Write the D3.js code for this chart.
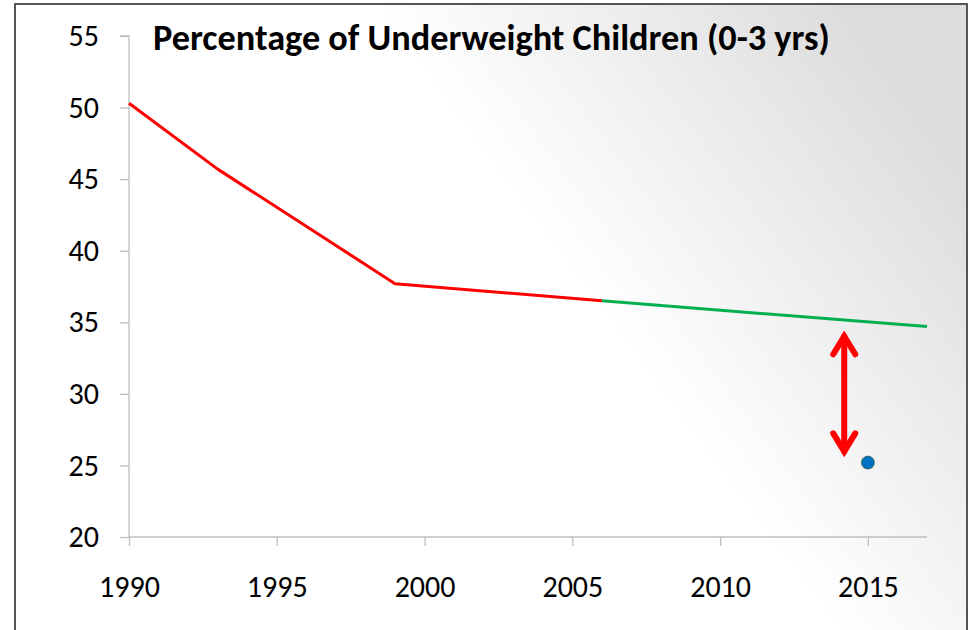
<!DOCTYPE html>
<html>
<head>
<meta charset="utf-8">
<script src="https://cdn.jsdelivr.net/npm/d3@7"></script>
<style>
  body { margin: 0; background: #fff; }
  svg { display: block; }
</style>
</head>
<body>
<script>
// values
const years = [1990, 1993, 1999, 2006];
const underweight = [50.3, 45.7, 37.7, 36.5];
const trendYears = [2006, 2017];
const trendValues = [36.5, 34.7];
const goalYear = [2015];
const goalValue = [25.2];
const gapYear = 2014.2;
const gapTop = 34.3;
const gapBottom = 25.7;
const xTicks = [1990, 1995, 2000, 2005, 2010, 2015];
const yTicks = [20, 25, 30, 35, 40, 45, 50, 55];
const title = "Percentage of Underweight Children (0-3 yrs)";

const w = 969;
const h = 630;
const font = "Calibri, Carlito, Lato, 'Open Sans', sans-serif";

const svg = d3.select("body")
  .append("svg")
  .attr("width", w)
  .attr("height", h);

const defs = svg.append("defs");
const grad = defs.append("linearGradient")
  .attr("id", "bg")
  .attr("x1", "0").attr("y1", "0.75")
  .attr("x2", "1").attr("y2", "0.25");
grad.append("stop").attr("offset", "0.6").attr("stop-color", "#ffffff");
grad.append("stop").attr("offset", "1").attr("stop-color", "#dcdcdc");

// frame
svg.append("rect")
  .attr("x", 15).attr("y", 4)
  .attr("width", 952).attr("height", 640)
  .attr("fill", "url(#bg)")
  .attr("stroke", "#555")
  .attr("stroke-width", 2);

const x = d3.scaleLinear().domain([1990, 2017]).range([129, 927]);
const y = d3.scaleLinear().domain([20, 55]).range([537, 36]);

// axes
const yAxis = svg.append("g")
  .attr("transform", `translate(${x(1990)},0)`)
  .call(d3.axisLeft(y).tickValues(yTicks).tickSize(9).tickPadding(21).tickFormat(d3.format("d")));

const xAxis = svg.append("g")
  .attr("transform", `translate(0,${y(20)})`)
  .call(d3.axisBottom(x).tickValues(xTicks).tickSize(9).tickSizeOuter(0).tickFormat(d3.format("d")));

[yAxis, xAxis].forEach(g => {
  g.select(".domain").attr("stroke", "#bfbfbf").attr("stroke-width", 1.3);
  g.selectAll(".tick line").attr("stroke", "#bfbfbf").attr("stroke-width", 1.3);
  g.selectAll(".tick text")
    .attr("fill", "#000")
    .style("font-family", font)
    .style("font-size", "30px");
});
xAxis.selectAll(".tick text").attr("y", 60).attr("dy", 0);
yAxis.select(".domain").attr("d", `M-9,${y(55)}H0V${y(20)}`);
xAxis.select(".domain").attr("d", `M${x(1990)},0H${x(2017)}`);

const line = d3.line()
  .x(d => x(d[0]))
  .y(d => y(d[1]));

svg.append("path")
  .datum(trendYears.map((d, i) => [d, trendValues[i]]))
  .attr("d", line)
  .attr("fill", "none")
  .attr("stroke", "#00b050")
  .attr("stroke-width", 3);

svg.append("path")
  .datum(years.map((d, i) => [d, underweight[i]]))
  .attr("d", line)
  .attr("fill", "none")
  .attr("stroke", "#ff0000")
  .attr("stroke-width", 3)
  .attr("stroke-linejoin", "round");

// goal point
svg.selectAll("circle")
  .data(goalYear)
  .enter()
  .append("circle")
  .attr("cx", d => x(d))
  .attr("cy", (d, i) => y(goalValue[i]))
  .attr("r", 6.5)
  .attr("fill", "#0070c0")
  .attr("stroke", "#3a6a50")
  .attr("stroke-width", 0.8);

// double arrow showing the gap
const ax = x(gapYear);
const yTop = y(gapTop);
const yBot = y(gapBottom);
const arrow = svg.append("g")
  .attr("fill", "none")
  .attr("stroke", "#ff0000")
  .attr("stroke-width", 6)
  .attr("stroke-linecap", "round")
  .attr("stroke-linejoin", "miter");
arrow.append("path").attr("d", `M${ax},${yTop + 4}V${yBot - 4}`);
arrow.append("path").attr("d", `M${ax - 11},${yTop + 22}L${ax},${yTop + 4}L${ax + 11},${yTop + 22}`);
arrow.append("path").attr("d", `M${ax - 11},${yBot - 22}L${ax},${yBot - 4}L${ax + 11},${yBot - 22}`);

// title
const t = svg.append("text")
  .attr("x", 153)
  .attr("y", 50)
  .style("font-family", font)
  .style("font-weight", "bold")
  .style("font-size", "30px")
  .attr("fill", "#000")
  .text(title);
const len = t.node().getComputedTextLength();
t.style("font-size", (30 * 677 / len).toFixed(2) + "px");
</script>
</body>
</html>
